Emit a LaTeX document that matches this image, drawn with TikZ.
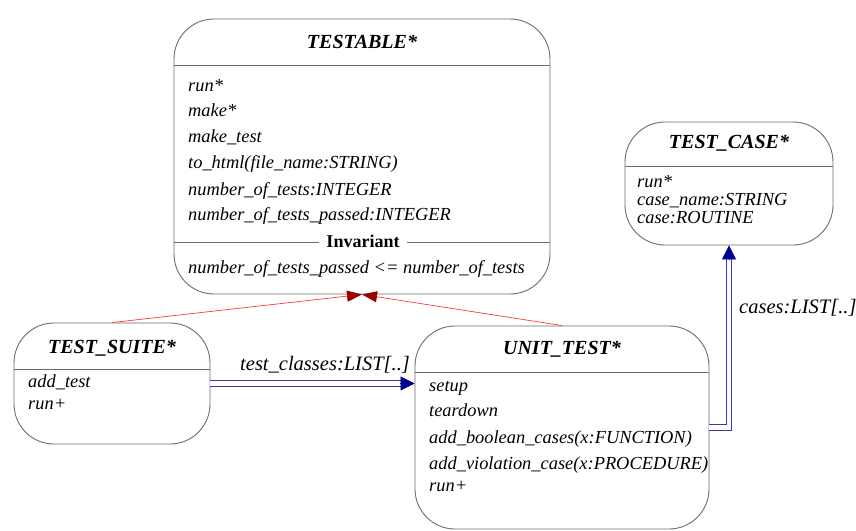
\documentclass[tikz,border=0pt]{standalone}
\usepackage{fontspec}
\setmainfont{Liberation Serif}
\usetikzlibrary{arrows.meta}
\definecolor{boxgray}{HTML}{6E6E6E}
\definecolor{inhred}{HTML}{FF3A3A}
\definecolor{inhhead}{HTML}{990000}
\definecolor{aggblue}{HTML}{3535C8}
\definecolor{agghead}{HTML}{000090}
\begin{document}
\begin{tikzpicture}[x=1pt,y=-1pt,
  cls/.style={draw=boxgray, line width=0.9pt, rounded corners=40pt, rectangle, inner sep=0pt},
  ttl/.style={font=\fontsize{20}{22}\selectfont\bfseries\itshape, anchor=base, inner sep=0pt},
  item/.style={font=\fontsize{18.4}{20}\selectfont\itshape, anchor=base west, inner sep=0pt},
  lbl/.style={font=\fontsize{20.5}{22}\selectfont\itshape, anchor=base west, inner sep=0pt},
  sepline/.style={draw=boxgray, line width=0.8pt},
  inh/.style={draw=inhred, line width=0.7pt, -{Triangle[length=15pt,width=11pt,fill=inhhead,color=inhhead]}},
  agg/.style={draw=aggblue, line width=0.8pt, double=white, double distance=4.5pt},
  agghd/.style={draw=agghead, line width=0.5pt, -{Triangle[length=14pt,width=14pt,fill=agghead,color=agghead]}}
]
\useasboundingbox (0,0) rectangle (856,530);
\fill[white] (0,0) rectangle (856,530);

% classes
\node[cls, minimum width=376pt, minimum height=275pt] (tb) at (362,156.5) {};
\node[cls, minimum width=208pt, minimum height=123pt] (tc) at (729,183.5) {};
\node[cls, minimum width=196pt, minimum height=121pt] (ts) at (112,383.5) {};
\node[cls, minimum width=294pt, minimum height=203pt] (ut) at (562,427.5) {};

% separators
\draw[sepline] (tb.west |- 0,65) -- (tb.east |- 0,65);
\draw[sepline] (tb.west |- 0,242) -- (tb.east |- 0,242);
\draw[sepline] (tc.west |- 0,166) -- (tc.east |- 0,166);
\draw[sepline] (ts.west |- 0,369) -- (ts.east |- 0,369);
\draw[sepline] (ut.west |- 0,372) -- (ut.east |- 0,372);

% titles
\node[ttl] (tbt) at (362,48) {TESTABLE*};
\node[ttl] (tct) at (729,148) {TEST\_CASE*};
\node[ttl] (tst) at (112,353) {TEST\_SUITE*};
\node[ttl] (utt) at (562,354) {UNIT\_TEST*};

% TESTABLE features
\node[item] (tb1) at (188,91) {run*};
\node[item] (tb2) at (188,116) {make*};
\node[item] (tb3) at (188,142) {make\_test};
\node[item] (tb4) at (188,168) {to\_html(file\_name:STRING)};
\node[item] (tb5) at (188,195) {number\_of\_tests:INTEGER};
\node[item] (tb6) at (188,220) {number\_of\_tests\_passed:INTEGER};
\node[anchor=base, fill=white, inner xsep=7pt, inner ysep=1pt, font=\fontsize{18}{20}\selectfont\bfseries] (inv) at (363,247) {Invariant};
\node[item] (tb7) at (188,273) {number\_of\_tests\_passed <= number\_of\_tests};

% TEST_CASE features
\node[item] (tc1) at (637,187) {run*};
\node[item] (tc2) at (637,205) {case\_name:STRING};
\node[item] (tc3) at (637,223) {case:ROUTINE};

% TEST_SUITE features
\node[item] (ts1) at (28,387) {add\_test};
\node[item] (ts2) at (28,409) {run+};

% UNIT_TEST features
\node[item] (ut1) at (429,391) {setup};
\node[item] (ut2) at (429,416) {teardown};
\node[item] (ut3) at (429,443) {add\_boolean\_cases(x:FUNCTION)};
\node[item] (ut4) at (429,469) {add\_violation\_case(x:PROCEDURE)};
\node[item] (ut5) at (429,491) {run+};

% inheritance
\draw[inh] (ts.north) -- (tb.south);
\draw[inh] (ut.north) -- (tb.south);

% aggregation: TEST_SUITE -> UNIT_TEST
\draw[agg, shorten >=12pt] (ts.east) -- (ts.east -| ut.west);
\draw[agghd] ([xshift=-15pt]ts.east -| ut.west) -- (ts.east -| ut.west);
\node[lbl] (l1) at (240,370) {test\_classes:LIST[..]};

% aggregation: UNIT_TEST -> TEST_CASE
\draw[agg, shorten >=12pt] (ut.east) -| (tc.south);
\draw[agghd] ([yshift=-15pt]tc.south) -- (tc.south);
\node[lbl] (l2) at (739,313) {cases:LIST[..]};
\end{tikzpicture}
\end{document}
